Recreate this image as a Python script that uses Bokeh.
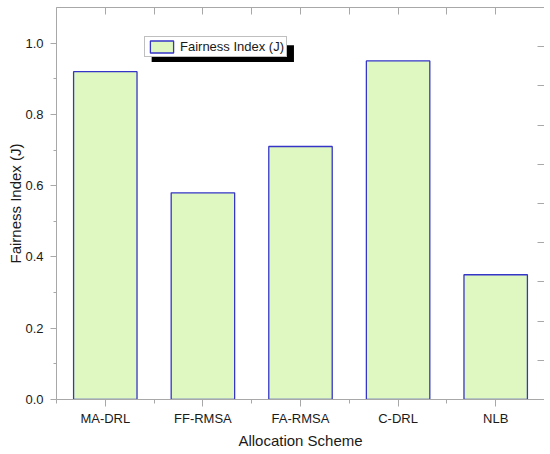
from bokeh.plotting import figure
from bokeh.models import (Range1d, LinearAxis, FixedTicker, BoxAnnotation,
                          Legend, LegendItem, PrintfTickFormatter, ColumnDataSource,
                          CustomLabelingPolicy)
from bokeh.embed import file_html
from bokeh.resources import INLINE

categories = ["MA-DRL", "FF-RMSA", "FA-RMSA", "C-DRL", "NLB"]
fairness = [0.92, 0.58, 0.71, 0.95, 0.35]
y_major = [0.0, 0.2, 0.4, 0.6, 0.8, 1.0]
y_minor = [0.1, 0.3, 0.5, 0.7, 0.9]
right_ticks = [0.0, 0.1, 0.2, 0.3, 0.4, 0.5, 0.6, 0.7, 0.8, 0.9, 1.0]

FONT = "Liberation Sans"
GRAY = "#a8a8a8"
n = len(categories)
positions = list(range(n))

src = ColumnDataSource(dict(pos=positions, cat=categories, val=fairness))

p = figure(x_range=Range1d(-0.5, n - 0.5), y_range=Range1d(0, 1.1),
           width=544, height=451, output_backend="svg", toolbar_location=None,
           x_axis_type=None, min_border_left=56, min_border_right=0,
           min_border_top=7, min_border_bottom=40)
p.extra_y_ranges = {"r": Range1d(0, 1)}
p.grid.visible = False
p.outline_line_color = None

r = p.vbar(x="pos", top="val", width=0.65, source=src, fill_color="#dff7c0",
           line_color="#3535c8", line_width=1.3)

# left axis
ya = p.yaxis[0]
ya.ticker = FixedTicker(ticks=y_major, minor_ticks=y_minor)
ya.formatter = PrintfTickFormatter(format="%.1f")
ya.axis_label = "Fairness Index (J)"
ya.axis_label_text_font = FONT
ya.axis_label_text_font_size = "15px"
ya.axis_label_text_font_style = "normal"
ya.axis_label_text_color = "#1a1a1a"
ya.axis_label_standoff = -2
ya.major_label_text_font = FONT
ya.major_label_text_font_size = "13px"
ya.major_label_text_color = "#1a1a1a"
ya.major_label_standoff = 7
ya.major_tick_out = 6
ya.major_tick_in = 0
ya.minor_tick_out = 3
ya.minor_tick_in = 0
ya.axis_line_color = GRAY
ya.major_tick_line_color = GRAY
ya.minor_tick_line_color = GRAY

# bottom axis
xa = LinearAxis(ticker=FixedTicker(ticks=positions,
                                   minor_ticks=[i - 0.5 for i in range(n + 1)]),
                major_label_overrides={i: c for i, c in zip(positions, categories)},
                axis_label="Allocation Scheme")
xa.axis_label_text_font = FONT
xa.axis_label_text_font_size = "15px"
xa.axis_label_text_font_style = "normal"
xa.axis_label_text_color = "#1a1a1a"
xa.axis_label_standoff = 3
xa.major_label_text_font = FONT
xa.major_label_text_font_size = "13px"
xa.major_label_text_color = "#1a1a1a"
xa.major_label_standoff = 4
xa.major_tick_out = 7
xa.major_tick_in = 0
xa.minor_tick_out = 4
xa.minor_tick_in = 0
xa.axis_line_color = GRAY
xa.major_tick_line_color = GRAY
xa.minor_tick_line_color = GRAY
p.add_layout(xa, "below")

no_labels = CustomLabelingPolicy(code="")

# top axis (ticks only)
ta = LinearAxis(ticker=FixedTicker(ticks=[i * 0.5 - 0.5 for i in range(2 * n + 1)]),
                major_label_text_font_size="0px", major_label_standoff=0,
                major_label_policy=no_labels,
                major_tick_in=7, major_tick_out=0, minor_tick_in=0, minor_tick_out=0,
                axis_line_color=GRAY, major_tick_line_color=GRAY)
p.add_layout(ta, "above")

# right axis (ticks only)
ra = LinearAxis(y_range_name="r", ticker=FixedTicker(ticks=right_ticks),
                major_label_text_font_size="0px", major_label_standoff=0,
                major_label_policy=no_labels,
                major_tick_in=7, major_tick_out=0, minor_tick_in=0, minor_tick_out=0,
                axis_line_color=GRAY, major_tick_line_color=GRAY)
p.add_layout(ra, "right")

# legend shadow
shadow = BoxAnnotation(left=0.475, right=1.933, bottom=0.947, top=0.994,
                       fill_color="black", fill_alpha=1, line_alpha=0)
p.add_layout(shadow)

legend = Legend(items=[LegendItem(label="Fairness Index (J)", renderers=[r])],
                location=(88, 342), margin=0, padding=2, spacing=0,
                glyph_width=29, glyph_height=15, label_standoff=4, label_height=14,
                label_text_font=FONT, label_text_font_size="13px",
                label_text_color="#1a1a1a",
                border_line_color="#808080", background_fill_alpha=1)
p.add_layout(legend, "center")

open("out.html", "w").write(file_html(p, INLINE))
